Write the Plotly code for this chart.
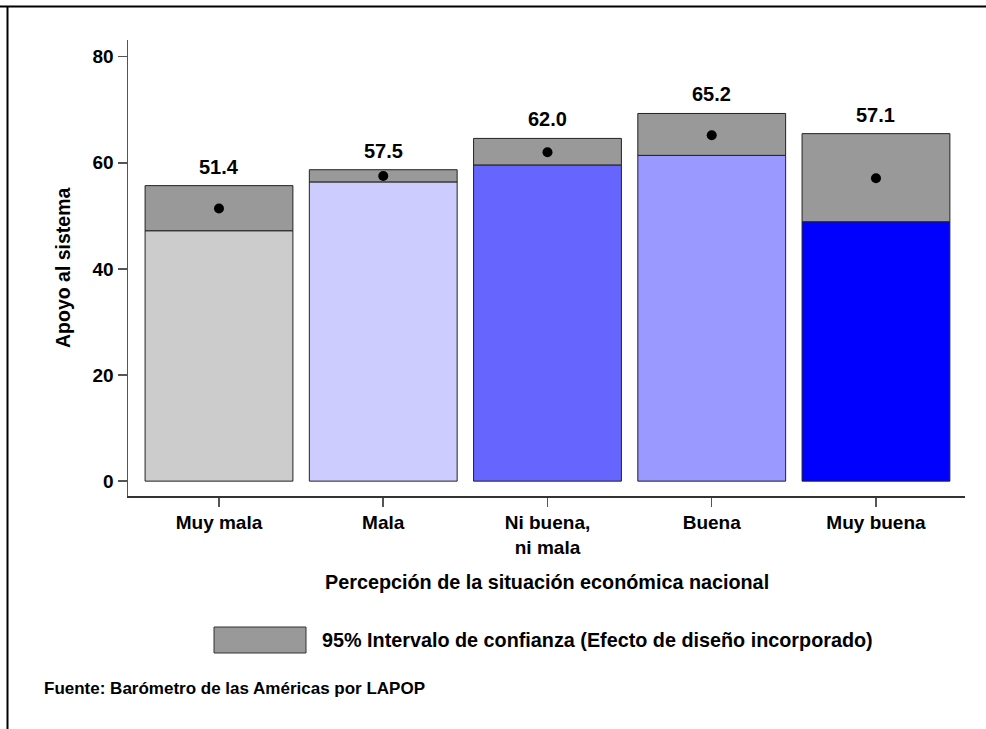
import plotly.graph_objects as go

categories = ["Muy mala", "Mala", "Ni buena,<br>ni mala", "Buena", "Muy buena"]
means = [51.4, 57.5, 62.0, 65.2, 57.1]
ci_low = [47.2, 56.4, 59.6, 61.4, 48.9]
ci_high = [55.7, 58.7, 64.6, 69.3, 65.5]
bar_colors = ["#cccccc", "#ccccff", "#6666ff", "#9999ff", "#0000ff"]
y_ticks = [0, 20, 40, 60, 80]

FONT = "Arial, 'Liberation Sans', Helvetica, sans-serif"
W, H = 986, 729
L, R, T, B = 128, 21, 40, 233

x = list(range(len(categories)))
fig = go.Figure()

fig.add_trace(go.Bar(
    x=x, y=ci_low, base=0, width=0.9,
    marker=dict(color=bar_colors, line=dict(color="#222222", width=1)),
    showlegend=False, hoverinfo="skip"))

fig.add_trace(go.Bar(
    x=x, y=[h - l for h, l in zip(ci_high, ci_low)], base=ci_low, width=0.9,
    marker=dict(color="#999999", line=dict(color="#222222", width=1)),
    showlegend=False, hoverinfo="skip"))

fig.add_trace(go.Scatter(
    x=x, y=means, mode="markers",
    marker=dict(color="black", size=10),
    showlegend=False, hoverinfo="skip"))

annotations = []
for xi, m, hi in zip(x, means, ci_high):
    annotations.append(dict(
        x=xi, y=hi, xref="x", yref="y", text=f"{m:.1f}", showarrow=False,
        yanchor="bottom", yshift=6,
        font=dict(family=FONT, size=20, color="black", weight="bold")))

pw = W - L - R
ph = H - T - B

def px(xp):
    return (xp - L) / pw

def py(yp):
    return (H - B - yp) / ph

annotations.append(dict(
    x=px(63), y=0.5, xref="paper", yref="paper", text="Apoyo al sistema",
    textangle=-90, showarrow=False, xanchor="center", yanchor="middle",
    font=dict(family=FONT, size=19.5, color="black", weight="bold")))
annotations.append(dict(
    x=px(546.5), y=py(582), xref="paper", yref="paper",
    text="Percepción de la situación económica nacional",
    showarrow=False, xanchor="center", yanchor="middle",
    font=dict(family=FONT, size=19.8, color="black", weight="bold")))
annotations.append(dict(
    x=px(320), y=py(640), xref="paper", yref="paper",
    text="95% Intervalo de confianza (Efecto de diseño incorporado)",
    showarrow=False, xanchor="left", yanchor="middle",
    font=dict(family=FONT, size=19.8, color="black", weight="bold")))
annotations.append(dict(
    x=px(42), y=py(688), xref="paper", yref="paper",
    text="Fuente: Barómetro de las Américas por LAPOP",
    showarrow=False, xanchor="left", yanchor="middle",
    font=dict(family=FONT, size=17, color="black", weight="bold")))

shapes = [
    dict(type="rect", xref="paper", yref="paper",
         x0=px(214), x1=px(306), y0=py(627), y1=py(653),
         fillcolor="#999999", line=dict(color="#333333", width=1)),
    dict(type="line", xref="paper", yref="paper",
         x0=px(0), x1=px(W), y0=py(6.5), y1=py(6.5),
         line=dict(color="black", width=2)),
    dict(type="line", xref="paper", yref="paper",
         x0=px(7.5), x1=px(7.5), y0=py(6.5), y1=py(H),
         line=dict(color="black", width=2)),
]

fig.update_layout(
    width=W, height=H,
    margin=dict(l=L, r=R, t=T, b=B, pad=0),
    paper_bgcolor="white", plot_bgcolor="white",
    barmode="overlay",
    showlegend=False,
    annotations=annotations,
    shapes=shapes,
    font=dict(family=FONT, size=19, color="black", weight="bold"),
    xaxis=dict(
        range=[-0.554, 4.542], tickmode="array", tickvals=x, ticktext=categories,
        showline=True, linecolor="#333333", linewidth=1.5,
        ticks="outside", ticklen=9, tickcolor="#555555", tickwidth=1.5,
        showgrid=False, zeroline=False,
        tickfont=dict(family=FONT, size=19, color="black", weight="bold")),
    yaxis=dict(
        range=[-2.8, 83.15], tickmode="array", tickvals=y_ticks,
        ticktext=[str(v) for v in y_ticks],
        showline=True, linecolor="#555555", linewidth=1.5,
        ticks="outside", ticklen=9, tickcolor="#555555", tickwidth=1.5,
        showgrid=False, zeroline=False,
        tickfont=dict(family=FONT, size=19, color="black", weight="bold")),
)

fig.write_html(
    "out.html",
    config={"displayModeBar": False, "staticPlot": True},
    post_script="document.body.style.margin='0';document.body.style.overflow='hidden';",
)
